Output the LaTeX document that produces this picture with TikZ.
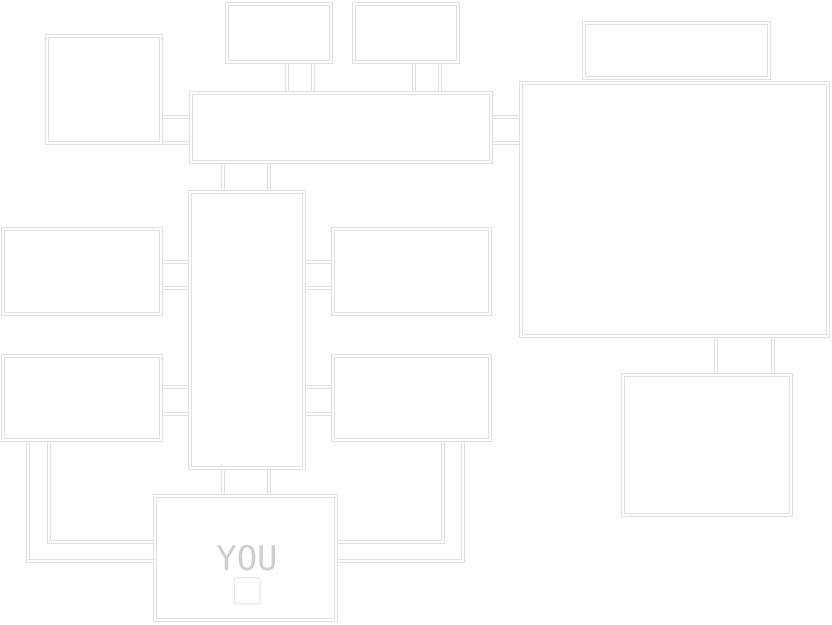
\documentclass[tikz,border=0pt]{standalone}
\usepackage{fontspec}
\usepackage{tikz}
\usetikzlibrary{backgrounds,positioning,fit}
\newfontfamily\pixelfont{DejaVu Sans Mono}
\definecolor{wallgray}{HTML}{E0E0E0}

\begin{document}
\begin{tikzpicture}[x=1pt,y=-1pt,
    wall/.style={draw=wallgray,line width=1pt,double=white,double distance=2.4pt},
    room/.style={wall,rectangle,inner sep=0pt}]
    \useasboundingbox (0,0) rectangle (832,624);
    % rooms
    \node [room,fit={(47,36) (161,143)}]   (stage) {};
    \node [room,fit={(227,4) (331,62)}]    (closeta) {};
    \node [room,fit={(354,4) (458,62)}]    (closetb) {};
    \node [room,fit={(191,93) (491,162)}]  (hall) {};
    \node [room,fit={(584,23) (769,78)}]   (backstage) {};
    \node [room,fit={(521,83) (828,336)}]  (dining) {};
    \node [room,fit={(623,375) (791,515)}] (kitchen) {};
    \node [room,fit={(190,192) (304,468)}] (corridor) {};
    \node [room,fit={(3,229) (161,314)}]   (westa) {};
    \node [room,fit={(333,229) (490,314)}] (easta) {};
    \node [room,fit={(3,356) (161,440)}]   (westb) {};
    \node [room,fit={(333,356) (490,440)}] (eastb) {};
    \node [room,fit={(155,496) (336,620)}] (office) {};
    \node [text=wallgray!92!black,font=\pixelfont\fontsize{34}{34}\selectfont] (you) at (247,558) {YOU};
    \node [draw=wallgray,line width=1pt,minimum size=26pt,rounded corners=2pt,below=3pt of you] (button) {};
    % halls between rooms
    \begin{scope}[on background layer]
    \foreach \y in {117,143} {
        \draw [wall] (stage.east |- 0,\y) -- (hall.west |- 0,\y);
        \draw [wall] (hall.east |- 0,\y) -- (dining.west |- 0,\y);
    }
    \foreach \x in {287,313} \draw [wall] (closeta.south -| \x,0) -- (hall.north -| \x,0);
    \foreach \x in {414,440} \draw [wall] (closetb.south -| \x,0) -- (hall.north -| \x,0);
    \foreach \x in {223,269} {
        \draw [wall] (hall.south -| \x,0) -- (corridor.north -| \x,0);
        \draw [wall] (corridor.south -| \x,0) -- (office.north -| \x,0);
    }
    \foreach \y in {262,288} {
        \draw [wall] (westa.east |- 0,\y) -- (corridor.west |- 0,\y);
        \draw [wall] (corridor.east |- 0,\y) -- (easta.west |- 0,\y);
    }
    \foreach \y in {387,414} {
        \draw [wall] (westb.east |- 0,\y) -- (corridor.west |- 0,\y);
        \draw [wall] (corridor.east |- 0,\y) -- (eastb.west |- 0,\y);
    }
    \foreach \x in {716,773} \draw [wall] (dining.south -| \x,0) -- (kitchen.north -| \x,0);
    \draw [wall] (westb.south -| 28,0) |- (office.west |- 0,561);
    \draw [wall] (westb.south -| 49,0) |- (office.west |- 0,542);
    \draw [wall] (eastb.south -| 463,0) |- (office.east |- 0,561);
    \draw [wall] (eastb.south -| 443,0) |- (office.east |- 0,542);
    \end{scope}
\end{tikzpicture}
\end{document}
